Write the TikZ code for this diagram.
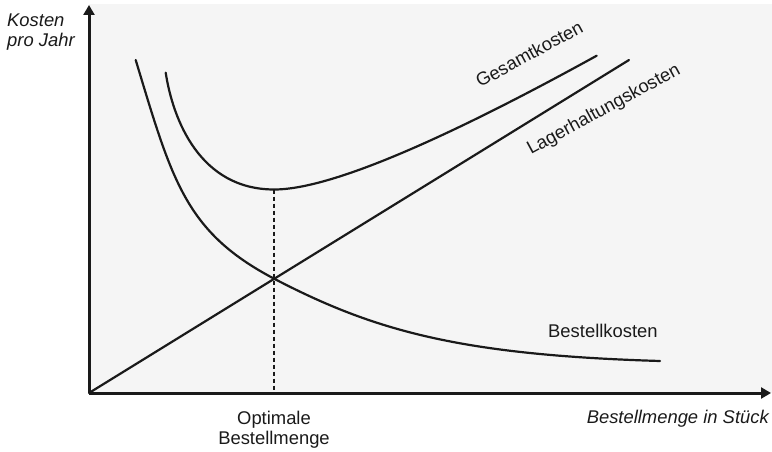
\documentclass[tikz,border=0pt]{standalone}
\usepackage{fontspec}
\setmainfont{Liberation Sans}
\usetikzlibrary{arrows.meta}
\definecolor{panel}{HTML}{F5F5F5}
\definecolor{ink}{HTML}{1A1A1A}
\begin{document}
\begin{tikzpicture}[x=1pt,y=-1pt,
  axis/.style={line width=3pt, draw=ink, -{Triangle[length=10pt,width=11pt]}},
  curve/.style={line width=2.2pt, draw=ink, line cap=round},
  guide/.style={line width=2.2pt, draw=ink, dash pattern=on 4.5pt off 2.5pt},
  lbl/.style={font=\fontsize{18.4}{21}\selectfont, text=ink, inner sep=0pt},
  axlbl/.style={lbl, font=\fontsize{18.4}{21}\selectfont\itshape}]
\useasboundingbox (0,0) rectangle (772,452);
% plotting panel
\fill[panel] (89,4) rectangle (772,393);

% key points
\coordinate (O) at (89,393);
\coordinate (ytip) at (89,5);
\coordinate (xtip) at (771,393);
\coordinate (Lend) at (629,60);
\coordinate (Bstart) at (135.7,60);
\coordinate (X) at (274.3,278.8);
\coordinate (Bend) at (660,361);
\coordinate (Gstart) at (165.7,72.7);
\coordinate (Gmin) at (274.3,189.5);
\coordinate (Gend) at (596.7,55.7);
\coordinate (Qopt) at (274.3,392);

% storage cost (linear)
\draw[curve] (O) -- (Lend);

% ordering cost
\draw[curve] (Bstart) .. controls (172,180) and (185,232) .. (X)
  .. controls (374.3,330.8) and (460,355) .. (Bend);

% total cost
\draw[curve] (Gstart) .. controls (173,120) and (200,189.5) .. (Gmin)
  .. controls (340,189.5) and (480,120) .. (Gend);

% optimum marker
\draw[guide] (Gmin) -- (Qopt);

% axes
\draw[axis] (O) -- (ytip);
\draw[axis] (O) -- (xtip);

% labels
\node[axlbl, anchor=base west] (ylab1) at (7,27) {Kosten};
\node[axlbl, anchor=base west] (ylab2) at (7,47) {pro Jahr};
\node[axlbl, anchor=base east] (xlab) at (769,423.3) {Bestellmenge in Stück};
\node[lbl, anchor=base] (opt1) at (274,424.3) {Optimale};
\node[lbl, anchor=base] (opt2) at (274,444.5) {Bestellmenge};
\node[lbl, anchor=base west] (bk) at (548,337.7) {Bestellkosten};
\node[lbl, anchor=base west, rotate=28.5] (gk) at (480,88) {Gesamtkosten};
\node[lbl, anchor=base west, rotate=28.5] (lk) at (531,155) {Lagerhaltungskosten};
\end{tikzpicture}
\end{document}
